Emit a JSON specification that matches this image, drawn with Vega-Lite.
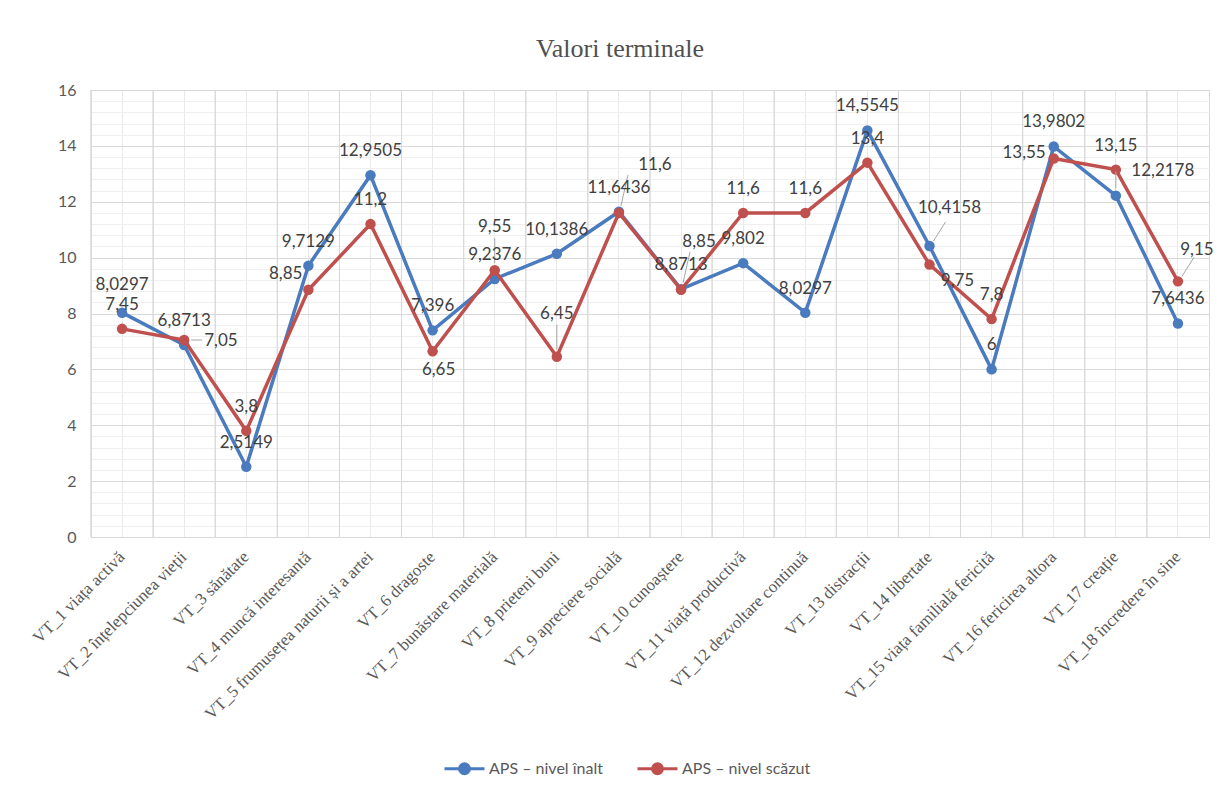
{
  "$schema": "https://vega.github.io/schema/vega-lite/v6.json",
  "width": 1118,
  "height": 447,
  "autosize": {"type": "none"},
  "padding": {"left": 91, "top": 90, "right": 11, "bottom": 252},
  "background": "#ffffff",
  "title": {
    "text": "Valori  terminale",
    "font": "Liberation Serif, Times New Roman, serif",
    "fontSize": 26,
    "fontWeight": "normal",
    "color": "#505050",
    "anchor": "middle",
    "frame": "group",
    "dx": -30,
    "offset": 20
  },
  "config": {
    "locale": {"number": {"decimal": ",", "thousands": ".", "grouping": [3], "currency": ["", " lei"]}},
    "view": {"stroke": "#d9d9d9", "strokeWidth": 1},
    "text": {"font": "Lato", "fontSize": 17, "color": "#404040"}
  },
  "data": {
    "values": [
      {"cat": "VT_1 viața activă", "serie": "APS – nivel înalt", "v": 8.0297},
      {"cat": "VT_2 înțelepciunea vieții", "serie": "APS – nivel înalt", "v": 6.8713},
      {"cat": "VT_3 sănătate", "serie": "APS – nivel înalt", "v": 2.5149},
      {"cat": "VT_4 muncă interesantă", "serie": "APS – nivel înalt", "v": 9.7129},
      {"cat": "VT_5 frumusețea naturii și a artei", "serie": "APS – nivel înalt", "v": 12.9505},
      {"cat": "VT_6 dragoste", "serie": "APS – nivel înalt", "v": 7.396},
      {"cat": "VT_7 bunăstare materială", "serie": "APS – nivel înalt", "v": 9.2376},
      {"cat": "VT_8 prieteni buni", "serie": "APS – nivel înalt", "v": 10.1386},
      {"cat": "VT_9 apreciere socială", "serie": "APS – nivel înalt", "v": 11.6436},
      {"cat": "VT_10 cunoaștere", "serie": "APS – nivel înalt", "v": 8.8713},
      {"cat": "VT_11 viață productivă", "serie": "APS – nivel înalt", "v": 9.802},
      {"cat": "VT_12 dezvoltare continuă", "serie": "APS – nivel înalt", "v": 8.0297},
      {"cat": "VT_13 distracții", "serie": "APS – nivel înalt", "v": 14.5545},
      {"cat": "VT_14 libertate", "serie": "APS – nivel înalt", "v": 10.4158},
      {"cat": "VT_15 viața familială fericită", "serie": "APS – nivel înalt", "v": 6},
      {"cat": "VT_16 fericirea altora", "serie": "APS – nivel înalt", "v": 13.9802},
      {"cat": "VT_17 creație", "serie": "APS – nivel înalt", "v": 12.2178},
      {"cat": "VT_18 încredere în sine", "serie": "APS – nivel înalt", "v": 7.6436},
      {"cat": "VT_1 viața activă", "serie": "APS – nivel scăzut", "v": 7.45},
      {"cat": "VT_2 înțelepciunea vieții", "serie": "APS – nivel scăzut", "v": 7.05},
      {"cat": "VT_3 sănătate", "serie": "APS – nivel scăzut", "v": 3.8},
      {"cat": "VT_4 muncă interesantă", "serie": "APS – nivel scăzut", "v": 8.85},
      {"cat": "VT_5 frumusețea naturii și a artei", "serie": "APS – nivel scăzut", "v": 11.2},
      {"cat": "VT_6 dragoste", "serie": "APS – nivel scăzut", "v": 6.65},
      {"cat": "VT_7 bunăstare materială", "serie": "APS – nivel scăzut", "v": 9.55},
      {"cat": "VT_8 prieteni buni", "serie": "APS – nivel scăzut", "v": 6.45},
      {"cat": "VT_9 apreciere socială", "serie": "APS – nivel scăzut", "v": 11.6},
      {"cat": "VT_10 cunoaștere", "serie": "APS – nivel scăzut", "v": 8.85},
      {"cat": "VT_11 viață productivă", "serie": "APS – nivel scăzut", "v": 11.6},
      {"cat": "VT_12 dezvoltare continuă", "serie": "APS – nivel scăzut", "v": 11.6},
      {"cat": "VT_13 distracții", "serie": "APS – nivel scăzut", "v": 13.4},
      {"cat": "VT_14 libertate", "serie": "APS – nivel scăzut", "v": 9.75},
      {"cat": "VT_15 viața familială fericită", "serie": "APS – nivel scăzut", "v": 7.8},
      {"cat": "VT_16 fericirea altora", "serie": "APS – nivel scăzut", "v": 13.55},
      {"cat": "VT_17 creație", "serie": "APS – nivel scăzut", "v": 13.15},
      {"cat": "VT_18 încredere în sine", "serie": "APS – nivel scăzut", "v": 9.15}
    ]
  },
  "encoding": {
    "x": {
      "field": "cat",
      "type": "nominal",
      "sort": null,
      "scale": {"paddingInner": 0, "paddingOuter": 0},
      "axis": {
        "title": null,
        "labelAngle": -45,
        "labelAlign": "right",
        "labelBaseline": "middle",
        "labelPadding": 17,
        "labelFont": "Liberation Serif, Times New Roman, serif",
        "labelFontSize": 17,
        "labelColor": "#595959",
        "labelLimit": 400,
        "labelOverlap": false,
        "ticks": false,
        "domain": true,
        "domainColor": "#d9d9d9",
        "grid": true,
        "gridColor": "#e9e9e9"
      }
    },
    "y": {
      "field": "v",
      "type": "quantitative",
      "scale": {"domain": [0, 16], "nice": false},
      "axis": {
        "title": null,
        "values": [0, 0.4, 0.8, 1.2, 1.6, 2, 2.4, 2.8, 3.2, 3.6, 4, 4.4, 4.8, 5.2, 5.6, 6, 6.4, 6.8, 7.2, 7.6, 8, 8.4, 8.8, 9.2, 9.6, 10, 10.4, 10.8, 11.2, 11.6, 12, 12.4, 12.8, 13.2, 13.6, 14, 14.4, 14.8, 15.2, 15.6, 16],
        "labelExpr": "datum.value % 2 === 0 ? '' + datum.value : ''",
        "labelOverlap": false,
        "labelFont": "Lato",
        "labelFontSize": 16,
        "labelColor": "#595959",
        "labelPadding": 15,
        "ticks": false,
        "domain": false,
        "grid": true,
        "gridColor": {"condition": {"test": "datum.value % 2 === 0", "value": "#d9d9d9"}, "value": "#efefef"}
      }
    }
  },
  "layer": [
    {
      "mark": {"type": "rule", "color": "#d9d9d9", "strokeWidth": 1},
      "encoding": {"x": {"field": "cat", "type": "nominal", "sort": null, "bandPosition": 0}, "y": null}
    },
    {
      "transform": [{"filter": "datum.serie === 'APS – nivel înalt'"}],
      "mark": {"type": "line", "strokeWidth": 3.5, "point": {"filled": true, "size": 110}},
      "encoding": {
        "color": {
          "field": "serie",
          "type": "nominal",
          "scale": {"domain": ["APS – nivel înalt", "APS – nivel scăzut"], "range": ["#4A7BBF", "#C0504D"]},
          "legend": {
            "title": null,
            "orient": "none",
            "direction": "horizontal",
            "legendX": 352,
            "legendY": 657,
            "symbolType": "M-1,0L1,0M-0.25,0A0.25,0.25,0,1,0,0.25,0A0.25,0.25,0,1,0,-0.25,0Z",
            "symbolSize": 1600,
            "symbolStrokeWidth": 3,
            "labelFont": "Lato",
            "labelFontSize": 16,
            "labelColor": "#595959",
            "labelOffset": 3,
            "columnPadding": 28,
            "encode": {"symbols": {"update": {"fill": {"signal": "scale('color', datum.value)"}}}}
          }
        }
      }
    },
    {
      "transform": [{"filter": "datum.serie === 'APS – nivel scăzut'"}],
      "mark": {"type": "line", "strokeWidth": 3.5, "point": {"filled": true, "size": 110}},
      "encoding": {"color": {"field": "serie", "type": "nominal"}}
    },
    {
      "transform": [{"filter": "indexof(['VT_7', 'VT_8'], split(datum.cat, ' ')[0]) >= 0 && datum.serie === 'APS – nivel scăzut'"}],
      "mark": {"type": "rule", "color": "#a6a6a6", "strokeWidth": 1, "yOffset": -7, "y2Offset": -32},
      "encoding": {"y2": {"field": "v"}}
    },
    {
      "transform": [{"filter": "indexof(['VT_9', 'VT_10'], split(datum.cat, ' ')[0]) >= 0 && datum.serie === 'APS – nivel scăzut'"}],
      "mark": {"type": "rule", "color": "#a6a6a6", "strokeWidth": 1, "yOffset": -7, "xOffset": 2, "y2Offset": -38, "x2Offset": 9},
      "encoding": {"x2": {"field": "cat"}, "y2": {"field": "v"}}
    },
    {
      "transform": [{"filter": "split(datum.cat, ' ')[0] === 'VT_2' && datum.serie === 'APS – nivel scăzut'"}],
      "mark": {"type": "rule", "color": "#a6a6a6", "strokeWidth": 1, "xOffset": 7, "x2Offset": 18},
      "encoding": {"x2": {"field": "cat"}, "y2": {"field": "v"}}
    },
    {
      "transform": [{"filter": "(split(datum.cat, ' ')[0] === 'VT_14' && datum.serie === 'APS – nivel înalt') || (split(datum.cat, ' ')[0] === 'VT_18' && datum.serie === 'APS – nivel scăzut')"}],
      "mark": {"type": "rule", "color": "#a6a6a6", "strokeWidth": 1, "yOffset": -5, "xOffset": 4, "y2Offset": -24, "x2Offset": 16},
      "encoding": {"x2": {"field": "cat"}, "y2": {"field": "v"}}
    },
    {
      "transform": [{"filter": "split(datum.cat, ' ')[0] === 'VT_17' && datum.serie === 'APS – nivel înalt'"}],
      "mark": {"type": "rule", "color": "#a6a6a6", "strokeWidth": 1, "yOffset": -7, "y2Offset": -24},
      "encoding": {"y2": {"field": "v"}}
    },
    {
      "transform": [{"filter": "indexof(['VT_1H', 'VT_2L', 'VT_4L', 'VT_6L', 'VT_7L', 'VT_8L', 'VT_9L', 'VT_10L', 'VT_14H', 'VT_14L', 'VT_16L', 'VT_17H', 'VT_18L'], split(datum.cat, ' ')[0] + (datum.serie === 'APS – nivel înalt' ? 'H' : 'L')) < 0"}],
      "mark": {"type": "text", "dy": -24},
      "encoding": {"text": {"field": "v", "type": "quantitative", "format": "~g"}}
    },
    {
      "transform": [{"filter": "split(datum.cat, ' ')[0] === 'VT_1' && datum.serie === 'APS – nivel înalt'"}],
      "mark": {"type": "text", "dy": -28},
      "encoding": {"text": {"field": "v", "type": "quantitative", "format": "~g"}}
    },
    {
      "transform": [{"filter": "split(datum.cat, ' ')[0] === 'VT_2' && datum.serie === 'APS – nivel scăzut'"}],
      "mark": {"type": "text", "align": "left", "dx": 20, "dy": 1},
      "encoding": {"text": {"field": "v", "type": "quantitative", "format": "~g"}}
    },
    {
      "transform": [{"filter": "split(datum.cat, ' ')[0] === 'VT_4' && datum.serie === 'APS – nivel scăzut'"}],
      "mark": {"type": "text", "align": "right", "dx": -6, "dy": -16},
      "encoding": {"text": {"field": "v", "type": "quantitative", "format": "~g"}}
    },
    {
      "transform": [{"filter": "split(datum.cat, ' ')[0] === 'VT_16' && datum.serie === 'APS – nivel scăzut'"}],
      "mark": {"type": "text", "align": "right", "dx": -8, "dy": -5},
      "encoding": {"text": {"field": "v", "type": "quantitative", "format": "~g"}}
    },
    {
      "transform": [{"filter": "split(datum.cat, ' ')[0] === 'VT_6' && datum.serie === 'APS – nivel scăzut'"}],
      "mark": {"type": "text", "dx": 6, "dy": 19},
      "encoding": {"text": {"field": "v", "type": "quantitative", "format": "~g"}}
    },
    {
      "transform": [{"filter": "indexof(['VT_7', 'VT_8'], split(datum.cat, ' ')[0]) >= 0 && datum.serie === 'APS – nivel scăzut'"}],
      "mark": {"type": "text", "dy": -43},
      "encoding": {"text": {"field": "v", "type": "quantitative", "format": "~g"}}
    },
    {
      "transform": [{"filter": "split(datum.cat, ' ')[0] === 'VT_9' && datum.serie === 'APS – nivel scăzut'"}],
      "mark": {"type": "text", "dx": 36, "dy": -48},
      "encoding": {"text": {"field": "v", "type": "quantitative", "format": "~g"}}
    },
    {
      "transform": [{"filter": "split(datum.cat, ' ')[0] === 'VT_10' && datum.serie === 'APS – nivel scăzut'"}],
      "mark": {"type": "text", "dx": 18, "dy": -48},
      "encoding": {"text": {"field": "v", "type": "quantitative", "format": "~g"}}
    },
    {
      "transform": [{"filter": "split(datum.cat, ' ')[0] === 'VT_14' && datum.serie === 'APS – nivel înalt'"}],
      "mark": {"type": "text", "dx": 20, "dy": -38},
      "encoding": {"text": {"field": "v", "type": "quantitative", "format": "~g"}}
    },
    {
      "transform": [{"filter": "split(datum.cat, ' ')[0] === 'VT_14' && datum.serie === 'APS – nivel scăzut'"}],
      "mark": {"type": "text", "dx": 28, "dy": 16},
      "encoding": {"text": {"field": "v", "type": "quantitative", "format": "~g"}}
    },
    {
      "transform": [{"filter": "split(datum.cat, ' ')[0] === 'VT_17' && datum.serie === 'APS – nivel înalt'"}],
      "mark": {"type": "text", "dx": 47, "dy": -25},
      "encoding": {"text": {"field": "v", "type": "quantitative", "format": "~g"}}
    },
    {
      "transform": [{"filter": "split(datum.cat, ' ')[0] === 'VT_18' && datum.serie === 'APS – nivel scăzut'"}],
      "mark": {"type": "text", "dx": 19, "dy": -31},
      "encoding": {"text": {"field": "v", "type": "quantitative", "format": "~g"}}
    }
  ]
}
